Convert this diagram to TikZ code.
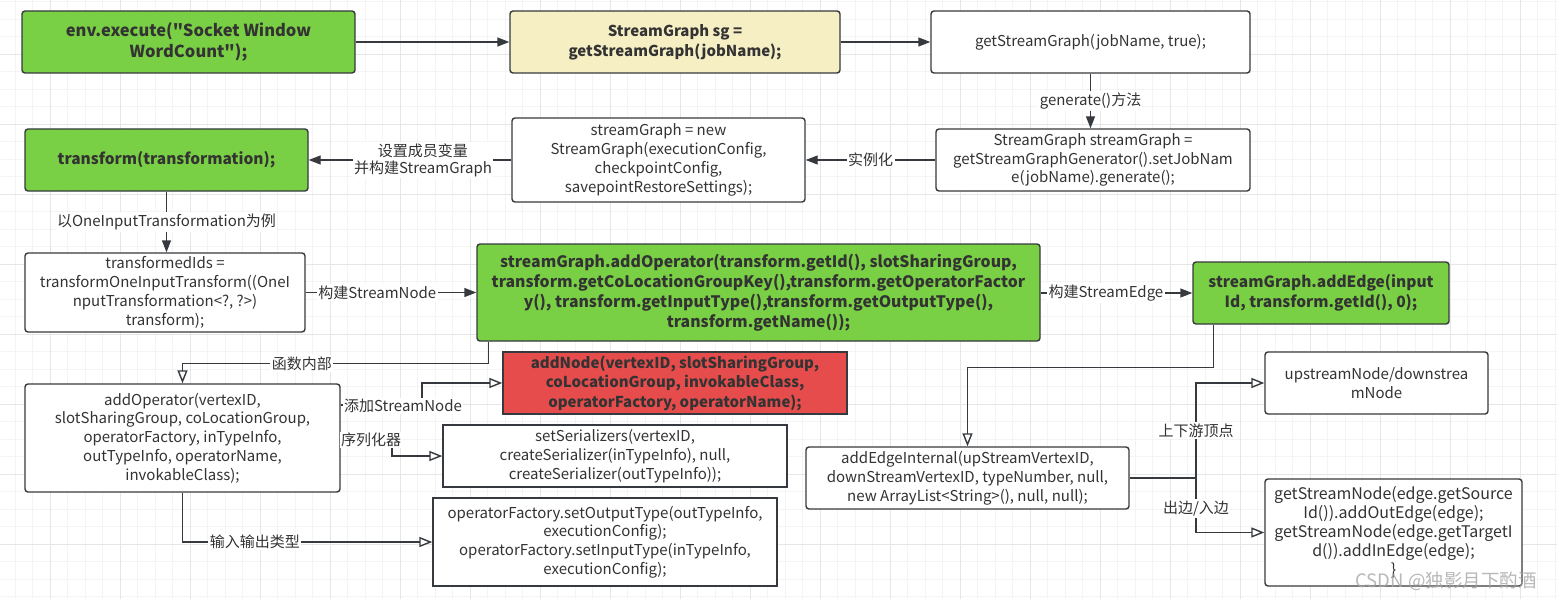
\documentclass[tikz,border=0pt]{standalone}
\usepackage{fontspec}
\setmainfont{Noto Sans CJK SC}[Ligatures=TeXOff]
\usetikzlibrary{arrows.meta,calc}
\definecolor{gfill}{HTML}{7AD044}
\definecolor{yfill}{HTML}{F6EFC4}
\definecolor{rfill}{HTML}{E74C4C}
\definecolor{edgec}{HTML}{36393D}
\definecolor{txt}{HTML}{333333}
\definecolor{gminor}{HTML}{F4F4F4}
\definecolor{gmajor}{HTML}{E6E6E6}
\tikzset{
  box/.style={draw=edgec, line width=1.4pt, rounded corners=3pt, align=center, inner sep=2pt, text=txt, fill=white,
    font=\fontsize{15}{18.8}\selectfont},
  sqbox/.style={box, rounded corners=0pt},
  gbox/.style={box, fill=gfill, font=\fontsize{15.5}{20}\selectfont\bfseries},
  ybox/.style={box, fill=yfill, font=\fontsize{15}{20}\selectfont\bfseries},
  rbox/.style={sqbox, fill=rfill, font=\fontsize{15}{19.5}\selectfont\bfseries},
  arr/.style={draw=edgec, line width=1.4pt, -{Triangle[length=12pt,width=9pt]}},
  oarr/.style={draw=edgec, line width=1.4pt, -{Triangle[open,length=13pt,width=10pt,fill=white]}},
  lab/.style={fill=white, inner sep=1.5pt, text=txt, align=center, font=\fontsize{15}{17.5}\selectfont},
}
\begin{document}
\begin{tikzpicture}[x=1pt,y=-1pt]
\useasboundingbox (0,0) rectangle (1557,599);
\fill[white] (0,0) rectangle (1557,599);
% grid
\foreach \i in {0,...,88} {\pgfmathsetmacro\xx{15+17.5*\i}\draw[gminor, line width=0.8pt] (\xx,0) -- (\xx,599);}
\foreach \i in {0,...,34} {\pgfmathsetmacro\yy{1.5+17.5*\i}\draw[gminor, line width=0.8pt] (0,\yy) -- (1557,\yy);}
\foreach \i in {0,...,21} {\pgfmathsetmacro\xx{50+70*\i}\draw[gmajor, line width=0.9pt] (\xx,0) -- (\xx,599);}
\foreach \i in {0,...,7} {\pgfmathsetmacro\yy{54+70*\i}\draw[gmajor, line width=0.9pt] (0,\yy) -- (1557,\yy);}

% nodes
\node[gbox, font=\fontsize{16.5}{21}\selectfont\bfseries, minimum width=333pt, minimum height=62pt] (env) at (188.5,42) {env.execute("Socket Window\\WordCount");};
\node[ybox, minimum width=330pt, minimum height=62pt] (sg) at (675,42) {StreamGraph sg =\\getStreamGraph(jobName);};
\node[box, minimum width=319pt, minimum height=62pt] (gsg) at (1090.5,42) {getStreamGraph(jobName, true);};
\node[box, minimum width=314pt, minimum height=62pt] (sgg) at (1093,160) {StreamGraph streamGraph =\\getStreamGraphGenerator().setJobNam\\e(jobName).generate();};
\node[box, minimum width=293pt, minimum height=84pt] (newsg) at (658.5,160) {streamGraph = new\\StreamGraph(executionConfig,\\checkpointConfig,\\savepointRestoreSettings);};
\node[gbox, minimum width=283pt, minimum height=62pt] (tr) at (166.5,160) {transform(transformation);};
\node[box, minimum width=280pt, minimum height=79pt] (tids) at (165,292.5) {transformedIds =\\transformOneInputTransform((OneI\\nputTransformation<?, ?>)\\transform);};
\node[gbox, font=\fontsize{15.8}{20}\selectfont\bfseries, minimum width=563pt, minimum height=97pt] (aop) at (758.5,292.5) {streamGraph.addOperator(transform.getId(), slotSharingGroup,\\transform.getCoLocationGroupKey(),transform.getOperatorFactor\\y(), transform.getInputType(),transform.getOutputType(),\\transform.getName());};
\node[gbox, minimum width=256pt, minimum height=62pt] (aedge) at (1321,293) {streamGraph.addEdge(input\\Id, transform.getId(), 0);};
\node[rbox, minimum width=344pt, minimum height=62pt] (anode) at (675,383) {addNode(vertexID, slotSharingGroup,\\coLocationGroup, invokableClass,\\operatorFactory, operatorName);};
\node[box, minimum width=315pt, minimum height=108pt] (aopw) at (182.5,438) {addOperator(vertexID,\\slotSharingGroup, coLocationGroup,\\operatorFactory, inTypeInfo,\\outTypeInfo, operatorName,\\invokableClass);};
\node[sqbox, minimum width=344pt, minimum height=62pt] (sets) at (615,456) {setSerializers(vertexID,\\createSerializer(inTypeInfo), null,\\createSerializer(outTypeInfo));};
\node[sqbox, minimum width=344pt, minimum height=88pt] (opf) at (605,542) {operatorFactory.setOutputType(outTypeInfo,\\executionConfig);\\operatorFactory.setInputType(inTypeInfo,\\executionConfig);};
\node[box, minimum width=323pt, minimum height=62pt] (aei) at (967.5,478) {addEdgeInternal(upStreamVertexID,\\downStreamVertexID, typeNumber, null,\\new ArrayList<String>(), null, null);};
\node[box, minimum width=223pt, minimum height=62pt] (up) at (1376.5,383) {upstreamNode/downstrea\\mNode};
\node[box, font=\fontsize{16}{19}\selectfont, minimum width=257pt, minimum height=107pt] (gsn) at (1393.5,532.5) {getStreamNode(edge.getSource\\Id()).addOutEdge(edge);\\getStreamNode(edge.getTargetI\\d()).addInEdge(edge);\\\}};

% connectors
\draw[arr] (env.east) -- (sg.west);
\draw[arr] (sg.east) -- (gsg.west);
\draw[arr] (gsg.south) -- (gsg.south |- sgg.north) node[lab, midway] {generate()方法};
\draw[arr] (sgg.west) -- (newsg.east) node[lab, pos=0.5] {实例化};
\draw[arr] (newsg.west) -- (tr.east) node[lab, pos=0.436, font=\fontsize{15}{17}\selectfont] {设置成员变量\\并构建StreamGraph};
\draw[arr] (tr.south) -- (tr.south |- tids.north) node[lab, midway] {以OneInputTransformation为例};
\draw[arr] (tids.east) -- (tids.east -| aop.west) node[lab, pos=0.42] {构建StreamNode};
\draw[arr] (aop.east |- aedge.west) -- (aedge.west) node[lab, pos=0.43] {构建StreamEdge};
\draw[oarr] ($(aop.south west)+(12,0)$) -- ++(0,22) -| (aopw.north) node[lab, pos=0.305] {函数内部};
\draw[oarr] ($(aopw.east)+(0,-33)$) -- (422,405) |- (anode.west);
\node[lab] (l1) at (403,406) {添加StreamNode};
\draw[oarr] (aopw.east) -- (392,438) |- (sets.west);
\node[lab] (l2) at (371,440) {序列化器};
\draw[oarr] (aopw.south) |- (opf.west) node[lab, pos=0.645] {输入输出类型};
\draw[oarr] ($(aedge.south west)+(21,0)$) -- ++(0,43) -| (aei.north);
\coordinate (j) at (1196,478);
\draw[draw=edgec, line width=1.4pt] (aei.east) -- (j);
\draw[oarr] (j) |- (up.west) node[lab, pos=0.25] {上下游顶点};
\draw[oarr] (j) |- (gsn.west) node[lab, pos=0.28] {出边/入边};

% watermark
\node[text=gray!70, opacity=0.8, font=\fontsize{18.5}{21}\selectfont, inner sep=0pt] (wm) at (1446,581) {CSDN @独影月下酌酒};
\end{tikzpicture}
\end{document}
